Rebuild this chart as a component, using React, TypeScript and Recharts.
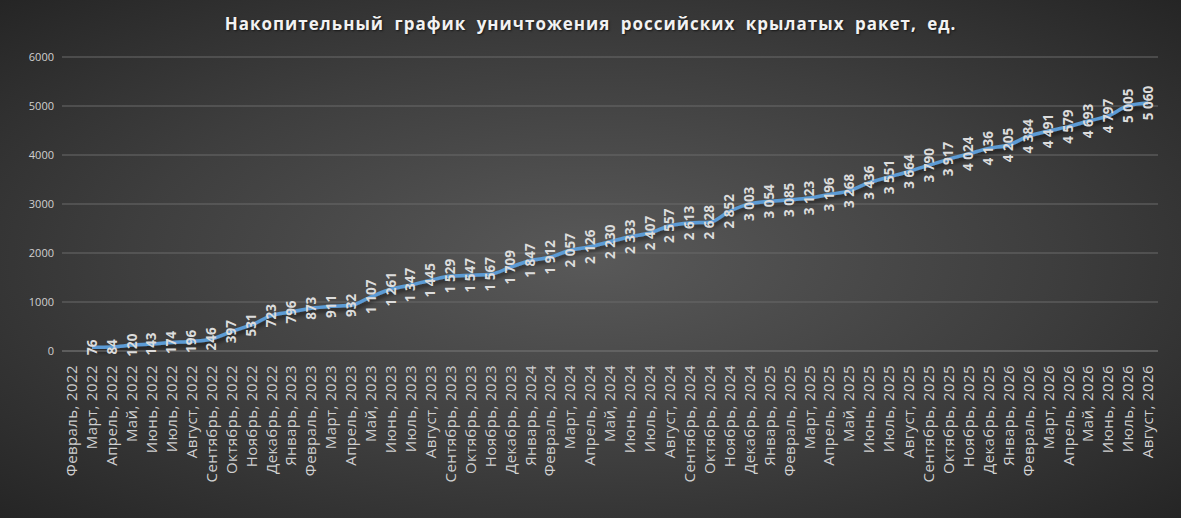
import { CartesianGrid, LabelList, Line, LineChart, XAxis, YAxis } from 'recharts';

const W = 1181;
const H = 518;

const MONTHS = [
	'Январь', 'Февраль', 'Март', 'Апрель', 'Май', 'Июнь',
	'Июль', 'Август', 'Сентябрь', 'Октябрь', 'Ноябрь', 'Декабрь',
];

// Февраль 2022 .. Август 2026
const categories: string[] = [];
for (let y = 2022; y <= 2026; y++) {
	for (let m = 0; m < 12; m++) {
		if (y === 2022 && m < 1) continue;
		if (y === 2026 && m > 7) continue;
		categories.push(`${MONTHS[m]}, ${y}`);
	}
}

const missiles2022 = [null, 76, 84, 120, 143, 174, 196, 246, 397, 531, 723];
const missiles2023 = [796, 873, 911, 932, 1107, 1261, 1347, 1445, 1529, 1547, 1567, 1709];
const missiles2024 = [1847, 1912, 2057, 2126, 2230, 2333, 2407, 2557, 2613, 2628, 2852, 3003];
const missiles2025 = [3054, 3085, 3123, 3196, 3268, 3436, 3551, 3664, 3790, 3917, 4024, 4136];
const missiles2026 = [4205, 4384, 4491, 4579, 4693, 4797, 5005, 5060];

const yTicks = [0, 1000, 2000, 3000, 4000, 5000, 6000];

const values = [...missiles2022, ...missiles2023, ...missiles2024, ...missiles2025, ...missiles2026];
const data = categories.map((name, i) => ({ name, value: values[i] }));

const FONT = '"Open Sans", "Noto Sans", sans-serif';

const fmt = (v: number) => String(v).replace(/\B(?=(\d{3})+(?!\d))/g, ' ');

function MonthTick({ x, y, payload }: any) {
	return (
		<text
			x={x}
			y={y + 6}
			dy="0.35em"
			transform={`rotate(-90, ${x}, ${y + 6})`}
			textAnchor="end"
			fill="#d0d0d0"
			fontSize={15}
			letterSpacing={0.4}
			fontFamily={FONT}
		>
			{payload.value}
		</text>
	);
}

function ValueLabel({ x, y, value }: any) {
	if (value == null) return null;
	return (
		<text
			x={x}
			y={y}
			dy="0.35em"
			transform={`rotate(-90, ${x}, ${y})`}
			textAnchor="middle"
			fill="#dcdcdc"
			fontSize={13.5}
			fontWeight="bold"
			fontFamily={FONT}
		>
			{fmt(value)}
		</text>
	);
}

export default function App() {
	return (
		<div
			style={{
				position: 'absolute',
				left: 0,
				top: 0,
				width: W,
				height: H,
				background: 'radial-gradient(ellipse at 50% 50%, #595959 0%, #3e3e3e 55%, #252525 100%)',
				fontFamily: FONT,
			}}
		>
			<div
				style={{
					position: 'absolute',
					top: 12,
					left: 0,
					width: W,
					textAlign: 'center',
					color: '#f2f2f2',
					fontSize: 17,
					fontWeight: 'bold',
					letterSpacing: 1,
					wordSpacing: 5,
					textShadow: '1px 1px 2px rgba(0,0,0,0.6)',
				}}
			>
				Накопительный график уничтожения российских крылатых ракет, ед.
			</div>
			<LineChart
				width={W}
				height={H}
				data={data}
				margin={{ top: 57, right: 23, bottom: 0, left: 12 }}
			>
				<defs>
					<filter id="lineShadow" x="-5%" y="-20%" width="110%" height="140%">
						<feDropShadow dx="1" dy="3" stdDeviation="2" floodColor="#000" floodOpacity="0.55" />
					</filter>
				</defs>
				<CartesianGrid vertical={false} stroke="#6a6a6a" strokeWidth={1} />
				<XAxis
					dataKey="name"
					interval={0}
					height={167}
					padding={{ left: 10, right: 10 }}
					tick={<MonthTick />}
					tickLine={false}
					axisLine={{ stroke: '#6a6a6a' }}
				/>
				<YAxis
					width={50}
					domain={[0, 6000]}
					ticks={yTicks}
					interval={0}
					tick={{ fill: '#d0d0d0', fontSize: 11, fontFamily: FONT }}
					tickLine={false}
					axisLine={false}
				/>
				<Line
					type="monotone"
					dataKey="value"
					stroke="#5b9bd5"
					strokeWidth={3.5}
					dot={false}
					connectNulls
					filter="url(#lineShadow)"
					isAnimationActive={false}
				>
					<LabelList dataKey="value" content={<ValueLabel />} />
				</Line>
			</LineChart>
		</div>
	);
}
